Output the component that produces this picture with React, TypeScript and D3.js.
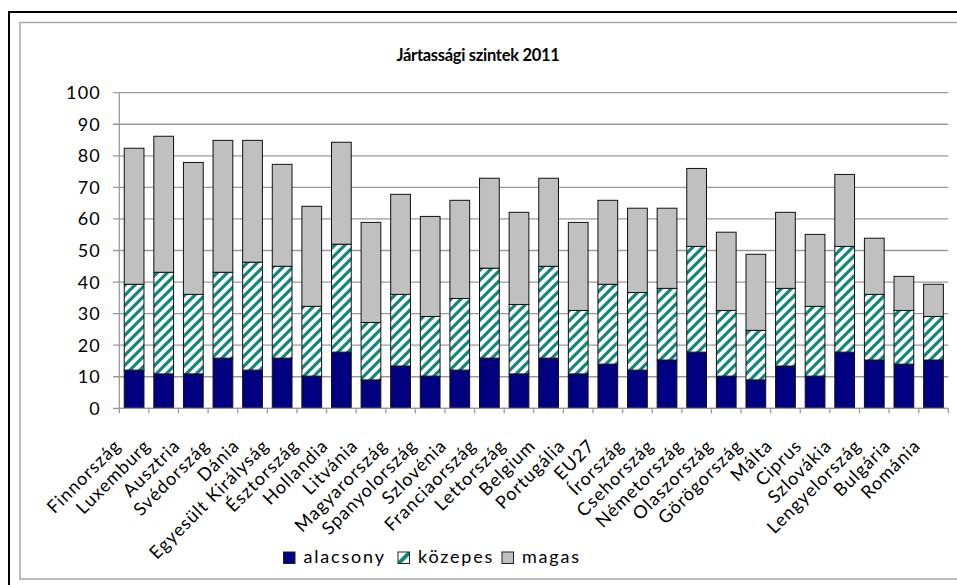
import React from "react";
import * as d3 from "d3";

const categories = [
  "Finnország", "Luxemburg", "Ausztria", "Svédország", "Dánia", "Egyesült Királyság",
  "Észtország", "Hollandia", "Litvánia", "Magyarország", "Spanyolország", "Szlovénia",
  "Franciaország", "Lettország", "Belgium", "Portugália", "EU27", "Írország",
  "Csehország", "Németország", "Olaszország", "Görögország", "Málta", "Ciprus",
  "Szlovákia", "Lengyelország", "Bulgária", "Románia",
];
const alacsony = [12.1, 10.9, 10.9, 15.9, 12.1, 15.9, 10.2, 17.8, 9.0, 13.4, 10.2, 12.1, 15.9, 10.9, 15.9, 10.9, 14.0, 12.1, 15.3, 17.8, 10.2, 9.0, 13.4, 10.2, 17.8, 15.3, 14.0, 15.3];
const kozepes = [27.2, 32.2, 25.2, 27.2, 34.2, 29.1, 22.1, 34.2, 18.2, 22.7, 18.9, 22.7, 28.5, 22.0, 29.1, 20.1, 25.3, 24.6, 22.7, 33.5, 20.8, 15.7, 24.6, 22.1, 33.5, 20.8, 17.0, 13.8];
const magas = [43.1, 43.1, 41.8, 41.8, 38.6, 32.3, 31.7, 32.3, 31.7, 31.7, 31.7, 31.1, 28.5, 29.2, 27.9, 27.9, 26.6, 26.7, 25.4, 24.7, 24.8, 24.1, 24.1, 22.8, 22.8, 17.8, 10.8, 10.2];
const yTicks = [0, 10, 20, 30, 40, 50, 60, 70, 80, 90, 100];
const seriesNames = ["alacsony", "közepes", "magas"];
const title = "Jártassági szintek 2011";

const W = 957;
const H = 585;
const FONT = "Lato, 'Open Sans', sans-serif";

export default function App() {
  const x = d3
    .scaleBand<string>()
    .domain(categories)
    .range([119.3, 948.3])
    .paddingInner(1 / 3)
    .paddingOuter(1 / 6);
  const step = x.step();
  const y = d3.scaleLinear().domain([0, 100]).range([408.3, 92.7]);

  const rows = categories.map((c, i) => ({
    cat: c,
    alacsony: alacsony[i],
    közepes: kozepes[i],
    magas: magas[i],
  }));
  const stacked = d3.stack<any>().keys(seriesNames)(rows);
  const fills = ["#000080", "url(#hatch)", "#C0C0C0"];
  const legendFills = ["#000080", "url(#hatchL)", "#C0C0C0"];
  const legendX = [283.5, 398, 502];

  const xStart = x.range()[0];
  const boundaries = d3.range(categories.length + 1).map((i) => xStart + i * step);

  return (
    <svg
      width={W}
      height={H}
      style={{ position: "absolute", left: 0, top: 0, background: "#fff" }}
      fontFamily={FONT}
    >
      <defs>
        <pattern id="hatch" patternUnits="userSpaceOnUse" width={10} height={10}>
          <rect width={10} height={10} fill="#fff" />
          <path d="M-2,2 L2,-2 M0,10 L10,0 M8,12 L12,8" stroke="#13877f" strokeWidth={3.2} />
        </pattern>
        <pattern id="hatchL" patternUnits="userSpaceOnUse" width={12} height={12} x={398} y={552}>
          <rect width={12} height={12} fill="#fff" />
          <path d="M0,12 L12,0" stroke="#13877f" strokeWidth={4} />
        </pattern>
      </defs>
      <rect x={0} y={0} width={W} height={H} fill="#fff" />
      {/* outer frames */}
      <rect x={9} y={12} width={W + 10} height={H + 10} fill="none" stroke="#000" strokeWidth={2} />
      <rect x={20} y={22.5} width={W + 10} height={556.5} fill="none" stroke="#a6a6a6" strokeWidth={1.5} />

      {/* title */}
      <text x={478} y={61} textAnchor="middle" fontWeight="bold" fontSize={16.5} letterSpacing={-0.3} fill="#000">
        {title}
      </text>

      {/* gridlines and y ticks */}
      {yTicks.map((t) => (
        <g key={t}>
          <line x1={113} x2={948.3} y1={y(t)} y2={y(t)} stroke="#9a9a9a" strokeWidth={1.3} />
          <text
            x={101}
            y={y(t)}
            dy="0.36em"
            textAnchor="end"
            fontSize={18}
            letterSpacing={1.2}
            fill="#000"
          >
            {t}
          </text>
        </g>
      ))}
      {/* y axis */}
      <line x1={119.3} x2={119.3} y1={y(100)} y2={y(0)} stroke="#9a9a9a" strokeWidth={1.3} />

      {/* bars */}
      {stacked.map((s, si) => (
        <g key={s.key}>
          {s.map((d, i) => (
            <rect
              key={i}
              x={x(categories[i])}
              y={y(d[1])}
              width={x.bandwidth()}
              height={y(d[0]) - y(d[1])}
              fill={fills[si]}
              stroke="#111"
              strokeWidth={1}
            />
          ))}
        </g>
      ))}

      {/* x axis */}
      <line x1={119.3} x2={948.3} y1={y(0)} y2={y(0)} stroke="#9a9a9a" strokeWidth={1.3} />
      {boundaries.map((b, i) => (
        <line key={i} x1={b} x2={b} y1={y(0)} y2={y(0) + 5} stroke="#9a9a9a" strokeWidth={1.3} />
      ))}
      {categories.map((c) => {
        const cx = (x(c) as number) + x.bandwidth() / 2;
        return (
          <text
            key={c}
            transform={`translate(${cx - 12},${447}) rotate(-45)`}
            textAnchor="end"
            fontSize={18}
            letterSpacing={1}
            fill="#000"
          >
            {c}
          </text>
        );
      })}

      {/* legend */}
      {seriesNames.map((n, i) => (
        <g key={n}>
          <rect
            x={legendX[i]}
            y={552}
            width={11.5}
            height={11.5}
            fill={legendFills[i]}
            stroke="#222"
            strokeWidth={1}
          />
          <text x={legendX[i] + 20} y={563.3} fontSize={18} letterSpacing={1.8} fill="#000">
            {n}
          </text>
        </g>
      ))}
    </svg>
  );
}
